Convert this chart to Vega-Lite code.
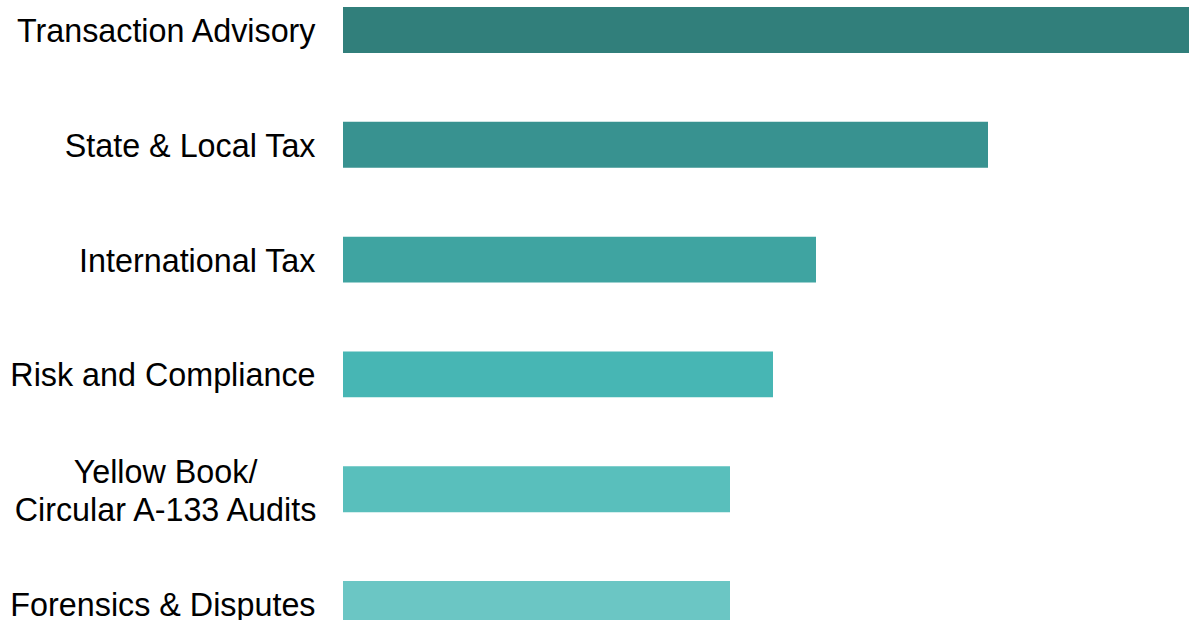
{
  "$schema": "https://vega.github.io/schema/vega-lite/v6.json",
  "autosize": "none",
  "padding": {"left": 343, "top": 0, "right": 0, "bottom": 0},
  "width": 860,
  "height": 634,
  "background": "white",
  "data": {
    "values": [
      {"service": "Transaction Advisory", "value": 20},
      {"service": "State & Local Tax", "value": 15},
      {"service": "International Tax", "value": 11},
      {"service": "Risk and Compliance", "value": 10},
      {"service": "Yellow Book/\nCircular A-133 Audits", "value": 9},
      {"service": "Forensics & Disputes", "value": 9}
    ]
  },
  "mark": {"type": "bar"},
  "encoding": {
    "y": {
      "field": "service",
      "type": "nominal",
      "sort": null,
      "scale": {"paddingInner": 0.6, "paddingOuter": 0.061},
      "axis": {
        "title": null,
        "domain": false,
        "ticks": false,
        "labelFont": "Liberation Sans",
        "labelFontSize": 32.3,
        "labelColor": "#000000",
        "labelLimit": 500,
        "labelLineHeight": 37.5,
        "labelExpr": "split(datum.value, '\\n')",
        "labelAlign": {"condition": {"test": "indexof(datum.value, 'Yellow') >= 0", "value": "center"}, "value": "right"},
        "labelPadding": {"condition": {"test": "indexof(datum.value, 'Yellow') >= 0", "value": 178}, "value": 28},
        "labelOffset": {"condition": {"test": "indexof(datum.value, 'Yellow') >= 0", "value": -16}, "value": 2}
      }
    },
    "x": {
      "field": "value",
      "type": "quantitative",
      "scale": {"domain": [0, 20], "nice": false},
      "axis": null
    },
    "color": {
      "field": "service",
      "type": "nominal",
      "legend": null,
      "scale": {
        "domain": ["Transaction Advisory", "State & Local Tax", "International Tax", "Risk and Compliance", "Yellow Book/\nCircular A-133 Audits", "Forensics & Disputes"],
        "range": ["#317F7B", "#389290", "#3FA4A1", "#47B6B4", "#59BFBC", "#6BC6C4"]
      }
    }
  },
  "config": {"view": {"stroke": null}}
}
